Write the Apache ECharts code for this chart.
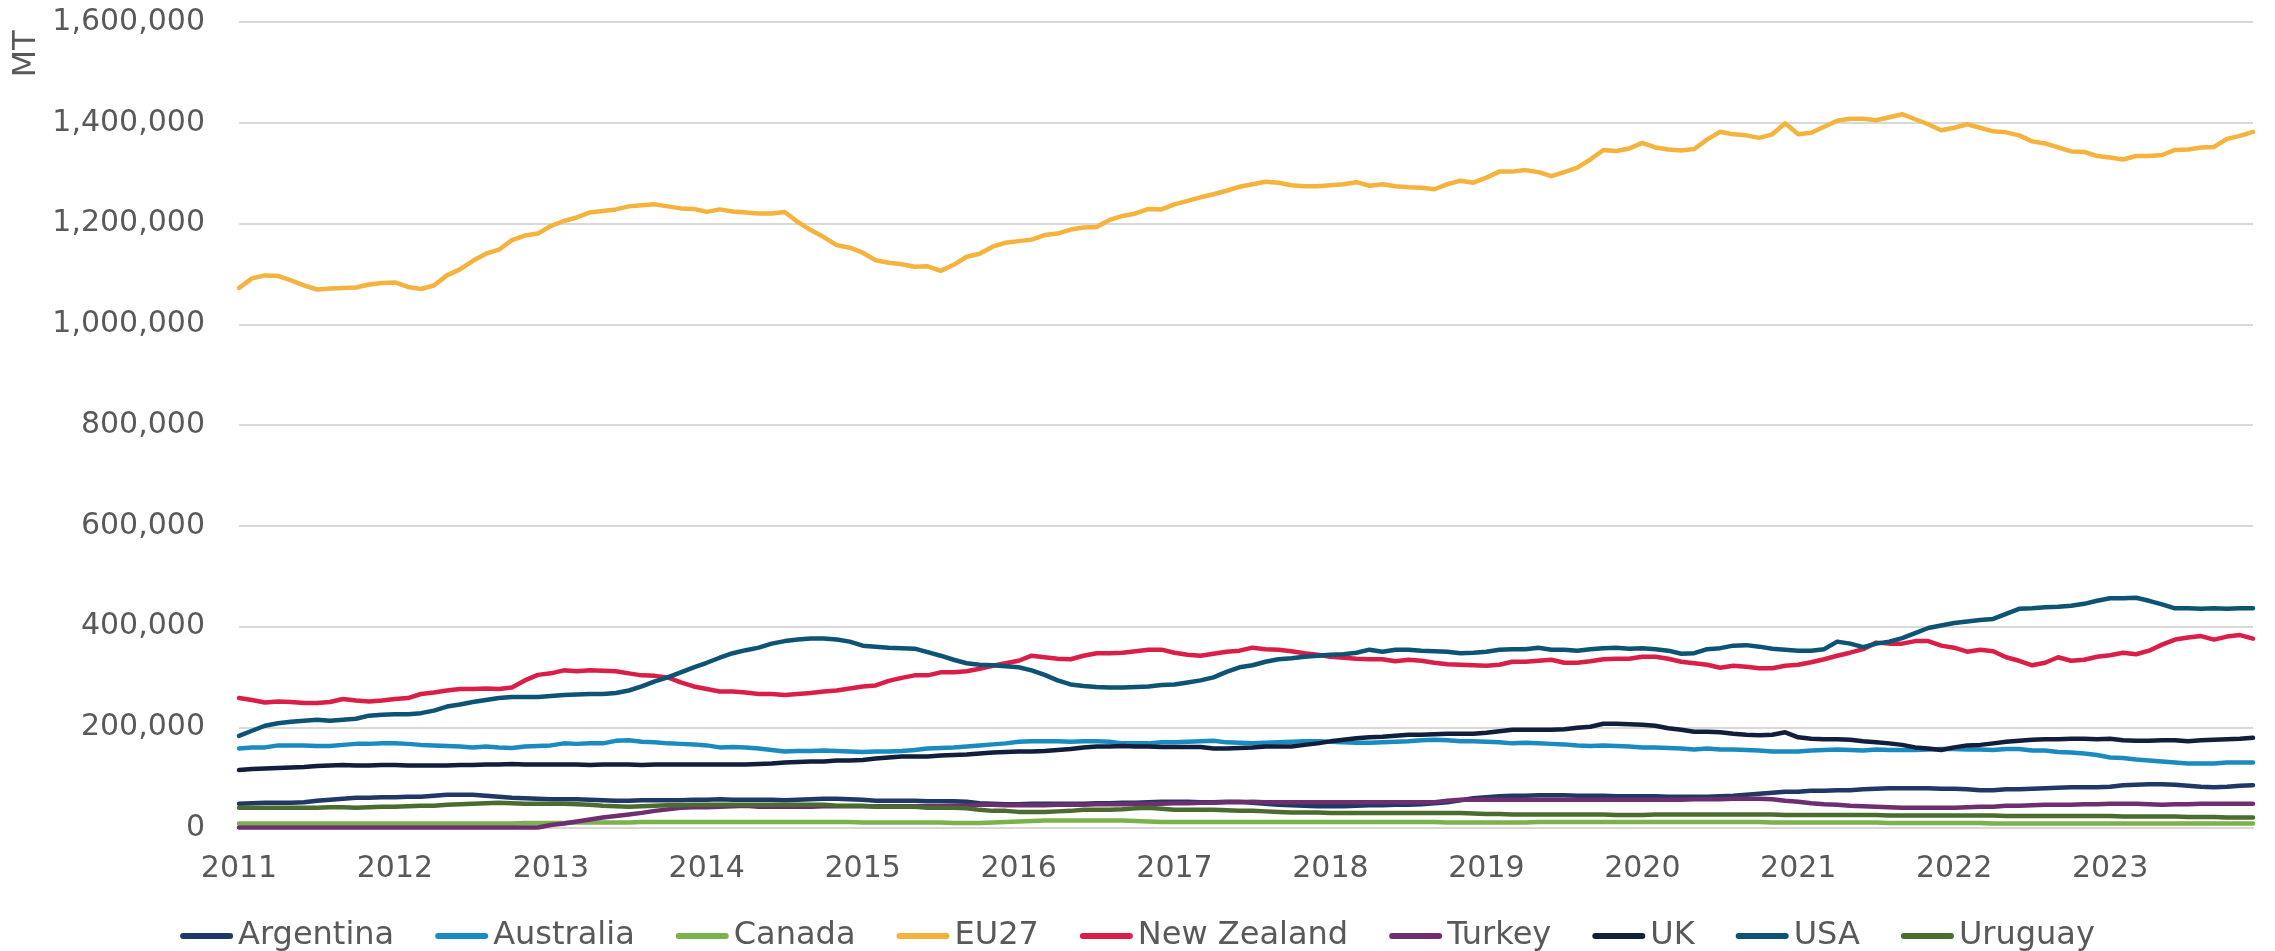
<!DOCTYPE html>
<html>
<head>
<meta charset="utf-8">
<title>Monthly volumes by origin (MT)</title>
<script src="https://cdn.jsdelivr.net/npm/echarts@6/dist/echarts.min.js"></script>
<style>
  html, body { margin: 0; padding: 0; background: #fff; }
  #chart { width: 2275px; height: 951px; }
</style>
</head>
<body>
<div id="chart"></div>
<script>
// years on the x axis, one point per month (Jan 2011 - Dec 2023)
var years = ['2011', '2012', '2013', '2014', '2015', '2016', '2017', '2018', '2019', '2020', '2021', '2022', '2023']
var yTicks = [0, 200000, 400000, 600000, 800000, 1000000, 1200000, 1400000, 1600000]

// values, in thousand MT
var argentinaKt = [48, 49, 50, 50, 50, 51, 54, 56, 58, 60, 60, 61, 61, 62, 62, 64, 66, 66, 66, 64,
  62, 60, 59, 58, 57, 57, 57, 56, 55, 54, 54, 55, 55, 55, 55, 56, 56, 57, 56, 56,
  56, 56, 55, 56, 57, 58, 58, 57, 56, 54, 54, 54, 54, 53, 53, 53, 52, 49, 48, 47,
  47, 48, 48, 48, 48, 48, 49, 49, 50, 50, 51, 52, 52, 52, 51, 51, 52, 52, 50, 48,
  46, 45, 44, 43, 43, 43, 44, 45, 45, 46, 46, 47, 49, 51, 55, 59, 61, 63, 64, 64,
  65, 65, 65, 64, 64, 64, 63, 63, 63, 63, 62, 62, 62, 62, 63, 64, 66, 68, 70, 72,
  72, 74, 74, 75, 75, 77, 78, 79, 79, 79, 79, 78, 78, 77, 75, 75, 77, 77, 78, 79,
  80, 81, 81, 81, 82, 85, 86, 87, 87, 86, 84, 82, 81, 82, 84, 85]
var australiaKt = [158, 160, 160, 164, 164, 164, 163, 163, 165, 167, 167, 168, 168, 167, 165, 164, 163, 162, 160, 162,
  160, 159, 162, 163, 164, 168, 167, 168, 168, 173, 174, 171, 170, 168, 167, 166, 164, 160, 161, 160,
  158, 155, 152, 153, 153, 154, 153, 152, 151, 152, 152, 153, 155, 158, 159, 160, 162, 164, 166, 168,
  171, 172, 172, 172, 171, 172, 172, 171, 168, 168, 168, 170, 170, 171, 172, 173, 170, 169, 168, 169,
  170, 171, 172, 172, 171, 170, 169, 169, 170, 171, 172, 174, 175, 174, 172, 172, 171, 170, 168, 169,
  168, 167, 166, 164, 163, 164, 163, 162, 160, 160, 159, 158, 156, 158, 156, 156, 155, 154, 152, 152,
  152, 154, 155, 156, 155, 154, 156, 155, 155, 155, 156, 157, 157, 156, 156, 155, 157, 157, 154, 154,
  151, 150, 148, 145, 140, 139, 136, 134, 132, 130, 128, 128, 128, 130, 130, 130]
var canadaKt = [9, 9, 9, 9, 9, 9, 9, 9, 9, 9, 9, 9, 9, 9, 9, 9, 9, 9, 9, 9,
  9, 9, 10, 10, 10, 10, 11, 11, 11, 11, 11, 12, 12, 12, 12, 12, 12, 12, 12, 12,
  12, 12, 12, 12, 12, 12, 12, 12, 11, 11, 11, 11, 11, 11, 11, 10, 10, 10, 11, 12,
  13, 14, 15, 15, 15, 15, 15, 15, 15, 14, 13, 12, 12, 12, 12, 12, 12, 12, 12, 12,
  12, 12, 12, 12, 12, 12, 12, 12, 12, 12, 12, 12, 12, 11, 11, 11, 11, 11, 11, 11,
  12, 12, 12, 12, 12, 12, 12, 12, 12, 12, 12, 12, 12, 12, 12, 12, 12, 12, 11, 11,
  11, 11, 11, 11, 11, 11, 11, 10, 10, 10, 10, 10, 10, 10, 10, 9, 9, 9, 9, 9,
  9, 9, 9, 9, 9, 9, 9, 9, 9, 9, 9, 9, 9, 9, 9, 9]
var eu27Kt = [1072, 1091, 1097, 1096, 1087, 1077, 1069, 1071, 1072, 1073, 1079, 1082, 1083, 1074, 1070, 1077, 1097, 1109, 1126, 1140,
  1148, 1167, 1176, 1180, 1195, 1205, 1212, 1222, 1225, 1228, 1234, 1236, 1238, 1234, 1230, 1229, 1223, 1228, 1224, 1222,
  1220, 1220, 1223, 1203, 1187, 1173, 1157, 1152, 1142, 1127, 1122, 1119, 1114, 1115, 1106, 1118, 1134, 1140, 1154, 1162,
  1165, 1168, 1177, 1180, 1188, 1192, 1193, 1207, 1215, 1220, 1229, 1228, 1238, 1245, 1252, 1258, 1265, 1273, 1278, 1283,
  1281, 1276, 1274, 1274, 1276, 1278, 1282, 1275, 1278, 1274, 1272, 1271, 1268, 1278, 1285, 1281, 1291, 1303, 1303, 1306,
  1302, 1294, 1302, 1311, 1327, 1346, 1344, 1349, 1360, 1351, 1347, 1345, 1348, 1367, 1382, 1377, 1375, 1370, 1377, 1399,
  1377, 1380, 1392, 1404, 1408, 1408, 1405, 1411, 1417, 1407, 1397, 1385, 1390, 1397, 1390, 1383, 1381, 1375, 1363, 1359,
  1351, 1343, 1342, 1334, 1331, 1327, 1334, 1334, 1336, 1346, 1347, 1351, 1352, 1368, 1374, 1382]
var newZealandKt = [258, 254, 249, 251, 250, 248, 248, 250, 256, 253, 251, 253, 256, 258, 266, 269, 273, 276, 276, 277,
  276, 279, 293, 304, 307, 313, 311, 313, 312, 311, 307, 303, 302, 299, 289, 281, 276, 271, 271, 269,
  266, 266, 264, 266, 268, 271, 273, 277, 281, 283, 292, 298, 303, 303, 309, 309, 311, 316, 322, 327,
  332, 342, 339, 336, 335, 342, 347, 347, 348, 351, 354, 354, 348, 344, 342, 346, 350, 352, 358, 355,
  354, 351, 347, 344, 340, 338, 336, 335, 335, 331, 334, 332, 328, 325, 324, 323, 322, 324, 330, 330,
  332, 334, 328, 328, 331, 335, 336, 336, 340, 340, 336, 330, 327, 324, 318, 322, 320, 317, 317, 322,
  324, 329, 335, 342, 348, 355, 368, 366, 366, 371, 371, 362, 358, 350, 354, 351, 339, 332, 323, 328,
  339, 332, 334, 340, 343, 348, 345, 352, 364, 374, 378, 381, 374, 380, 383, 376]
var turkeyKt = [1, 1, 1, 1, 1, 1, 1, 1, 1, 1, 1, 1, 1, 1, 1, 1, 1, 1, 1, 1,
  1, 1, 1, 1, 6, 9, 13, 17, 21, 24, 27, 30, 34, 37, 40, 41, 41, 42, 43, 44,
  42, 42, 42, 42, 42, 43, 43, 43, 43, 43, 43, 43, 43, 43, 43, 44, 44, 46, 46, 45,
  45, 45, 45, 46, 46, 46, 47, 47, 47, 48, 48, 48, 49, 49, 50, 50, 51, 51, 52, 51,
  51, 51, 51, 51, 51, 51, 51, 51, 51, 51, 51, 51, 51, 54, 56, 56, 56, 56, 56, 56,
  56, 56, 56, 56, 56, 56, 56, 56, 56, 56, 56, 56, 57, 57, 57, 58, 58, 58, 57, 54,
  52, 49, 47, 46, 44, 43, 42, 41, 40, 40, 40, 40, 40, 41, 42, 42, 44, 44, 45, 46,
  46, 46, 47, 47, 48, 48, 48, 47, 46, 47, 47, 48, 48, 48, 48, 48]
var ukKt = [115, 117, 118, 119, 120, 121, 123, 124, 125, 124, 124, 125, 125, 124, 124, 124, 124, 125, 125, 126,
  126, 127, 126, 126, 126, 126, 126, 125, 126, 126, 126, 125, 126, 126, 126, 126, 126, 126, 126, 126,
  127, 128, 130, 131, 132, 132, 134, 134, 135, 138, 140, 142, 142, 142, 144, 145, 146, 148, 150, 151,
  152, 152, 153, 155, 157, 160, 162, 162, 163, 162, 162, 161, 161, 161, 161, 158, 158, 159, 160, 162,
  162, 162, 165, 168, 172, 175, 178, 180, 181, 183, 185, 185, 186, 187, 187, 187, 189, 192, 195, 195,
  195, 195, 196, 199, 201, 207, 207, 206, 205, 203, 198, 195, 191, 191, 190, 187, 185, 184, 185, 190,
  180, 177, 176, 176, 175, 172, 170, 168, 165, 160, 158, 155, 160, 164, 165, 168, 171, 173, 175, 176,
  176, 177, 177, 176, 177, 174, 173, 173, 174, 174, 172, 174, 175, 176, 177, 179]
var usaKt = [183, 193, 203, 208, 211, 213, 215, 213, 215, 217, 223, 225, 226, 226, 228, 233, 241, 245, 250, 254,
  258, 260, 260, 260, 262, 264, 265, 266, 266, 268, 273, 281, 291, 299, 309, 319, 328, 338, 347, 353,
  358, 366, 371, 374, 376, 376, 374, 370, 362, 360, 358, 357, 356, 349, 342, 334, 327, 324, 323, 321,
  319, 313, 304, 293, 285, 282, 280, 279, 279, 280, 281, 284, 285, 289, 293, 299, 310, 319, 323, 330,
  335, 337, 340, 342, 344, 345, 348, 354, 350, 354, 354, 352, 351, 350, 347, 348, 350, 354, 355, 355,
  358, 354, 354, 352, 355, 357, 358, 356, 357, 355, 352, 346, 347, 355, 357, 362, 363, 360, 356, 354,
  352, 352, 355, 370, 366, 359, 366, 370, 377, 387, 397, 402, 407, 410, 413, 415, 425, 435, 436, 438,
  439, 441, 445, 451, 456, 456, 457, 451, 444, 436, 436, 435, 436, 435, 436, 436]
var uruguayKt = [40, 40, 40, 40, 40, 40, 40, 41, 41, 40, 41, 42, 42, 43, 44, 44, 46, 47, 48, 49,
  50, 49, 48, 48, 48, 48, 47, 46, 44, 43, 42, 43, 44, 45, 45, 46, 46, 46, 46, 46,
  46, 46, 46, 46, 46, 46, 44, 44, 44, 42, 42, 42, 42, 40, 40, 40, 39, 36, 34, 34,
  32, 32, 32, 33, 34, 36, 36, 36, 37, 39, 40, 38, 36, 36, 36, 36, 35, 34, 34, 33,
  32, 31, 31, 31, 30, 30, 30, 30, 30, 30, 30, 30, 30, 30, 30, 29, 28, 28, 27, 27,
  27, 27, 27, 27, 27, 27, 26, 26, 26, 27, 27, 27, 27, 27, 27, 27, 27, 27, 27, 26,
  26, 26, 26, 26, 26, 26, 26, 25, 25, 25, 25, 25, 25, 25, 25, 25, 24, 24, 24, 24,
  24, 24, 24, 24, 24, 23, 23, 23, 23, 23, 22, 22, 22, 21, 21, 21]

var seriesNames = ['Argentina', 'Australia', 'Canada', 'EU27', 'New Zealand', 'Turkey', 'UK', 'USA', 'Uruguay']
var seriesColors = ['#1f3866', '#1a8bc0', '#7bb24b', '#f5b23d', '#d91f48', '#6e2f70', '#111e3c', '#0d5373', '#4b6c2f']
var seriesKt = [argentinaKt, australiaKt, canadaKt, eu27Kt, newZealandKt, turkeyKt, ukKt, usaKt, uruguayKt]

var months = ['01', '02', '03', '04', '05', '06', '07', '08', '09', '10', '11', '12']
var categories = []
years.forEach(function (y) {
  months.forEach(function (m) {
    categories.push(y + '-' + m)
  })
})

var font = '"DejaVu Sans", sans-serif'
var textColor = '#595959'

var myChart = echarts.init(document.getElementById('chart'))
var option = {
  animation: false,
  backgroundColor: '#fff',
  grid: {
    left: 239,
    right: 22,
    top: 22,
    bottom: 123
  },
  legend: {
    data: seriesNames,
    left: 'center',
    top: 912,
    itemWidth: 53,
    itemHeight: 6,
    itemGap: 41,
    icon: 'path://M3,0 H50 A3,3 0 0 1 50,6 H3 A3,3 0 0 1 3,0 Z',
    textStyle: {
      fontFamily: font,
      fontSize: 32,
      color: textColor,
      lineHeight: 38
    }
  },
  graphic: [{
    type: 'text',
    x: 27,
    y: 54,
    rotation: Math.PI / 2,
    style: {
      text: 'MT',
      fill: textColor,
      font: '32px "DejaVu Sans", sans-serif',
      align: 'center',
      verticalAlign: 'middle'
    }
  }],
  xAxis: {
    type: 'category',
    data: categories,
    boundaryGap: false,
    axisLine: { show: true, lineStyle: { color: '#d9d9d9', width: 2 } },
    axisTick: { show: false },
    axisLabel: {
      interval: function (index) { return index % 12 === 0 },
      formatter: function (value) { return value.slice(0, 4) },
      fontFamily: font,
      fontSize: 30,
      color: textColor,
      margin: 26
    },
    splitLine: { show: false }
  },
  yAxis: {
    type: 'value',
    min: yTicks[0],
    max: yTicks[yTicks.length - 1],
    interval: yTicks[1] - yTicks[0],
    axisLine: { show: false },
    axisTick: { show: false },
    axisLabel: {
      formatter: function (v) { return v.toLocaleString('en-US') },
      fontFamily: font,
      fontSize: 30,
      color: textColor,
      margin: 34
    },
    splitLine: { lineStyle: { color: '#d9d9d9', width: 2 } }
  },
  series: seriesNames.map(function (name, i) {
    return {
      name: name,
      type: 'line',
      data: seriesKt[i].map(function (v) { return v * 1000 }),
      symbol: 'none',
      smooth: false,
      color: seriesColors[i],
      lineStyle: { width: 4.5, color: seriesColors[i], cap: 'round', join: 'round' }
    }
  })
}
myChart.setOption(option)
</script>
</body>
</html>
